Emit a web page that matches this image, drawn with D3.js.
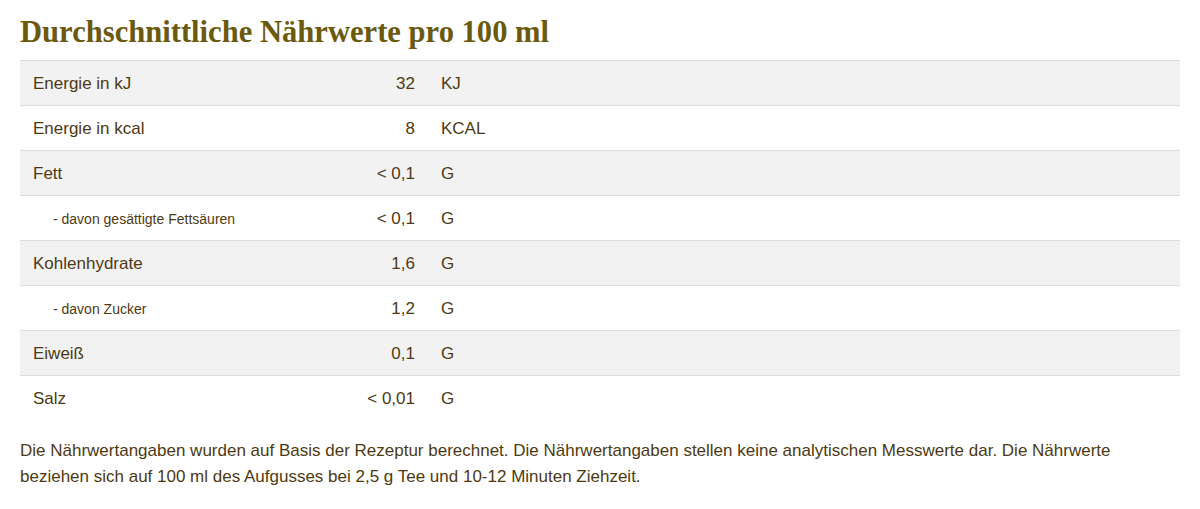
<!DOCTYPE html>
<html><head><meta charset="utf-8">
<script src="https://cdn.jsdelivr.net/npm/d3@7"></script>
<style>body{margin:0;background:#fff;}</style>
</head><body><div id="vis"></div>
<script>
const labels = ["Energie in kJ", "Energie in kcal", "Fett", "- davon gesättigte Fettsäuren", "Kohlenhydrate", "- davon Zucker", "Eiweiß", "Salz"];
const values = ["32", "8", "< 0,1", "< 0,1", "1,6", "1,2", "0,1", "< 0,01"];
const units = ["KJ", "KCAL", "G", "G", "G", "G", "G", "G"];
const isSub = [false, false, false, true, false, true, false, false];

const WIDTH = 1200, HEIGHT = 509;
const svg = d3.select("#vis").append("svg").attr("width", WIDTH).attr("height", HEIGHT);
const txtColor = "#4d3a12";
const font = "'Liberation Sans', Arial, 'Noto Sans', sans-serif";

svg.append("text").attr("x", 20).attr("y", 42)
  .style("font-family", "'Liberation Serif', 'DejaVu Serif', serif")
  .style("font-weight", "bold").style("font-size", "30.6px").style("fill", "#6b5a0e")
  .text("Durchschnittliche Nährwerte pro 100 ml");

const y = d3.scaleBand().domain(d3.range(labels.length)).range([60, 420]);

const rows = svg.selectAll("g.row").data(labels).join("g").attr("class", "row")
  .attr("transform", (d, i) => `translate(0,${y(i)})`);

rows.append("rect").attr("x", 20).attr("width", 1160).attr("height", y.bandwidth())
  .attr("fill", (d, i) => i % 2 === 0 ? "#f2f2f2" : "#fff");
rows.append("line").attr("x1", 20).attr("x2", 1180).attr("y1", 0.5).attr("y2", 0.5)
  .attr("stroke", "#dcdcdc");

const mid = y.bandwidth() / 2 + 6;
rows.append("text").attr("x", (d, i) => isSub[i] ? 53 : 33).attr("y", mid)
  .style("font-family", font).style("font-size", (d, i) => isSub[i] ? "14px" : "17px")
  .style("fill", txtColor).text(d => d);
rows.append("text").attr("x", 415).attr("y", mid).attr("text-anchor", "end")
  .style("font-family", font).style("font-size", "17px").style("fill", txtColor)
  .text((d, i) => values[i]);
rows.append("text").attr("x", 441).attr("y", mid)
  .style("font-family", font).style("font-size", "17px").style("fill", txtColor)
  .text((d, i) => units[i]);

const foot = ["Die Nährwertangaben wurden auf Basis der Rezeptur berechnet. Die Nährwertangaben stellen keine analytischen Messwerte dar. Die Nährwerte",
  "beziehen sich auf 100 ml des Aufgusses bei 2,5 g Tee und 10-12 Minuten Ziehzeit."];
svg.selectAll("text.foot").data(foot).join("text").attr("class", "foot")
  .attr("x", 20).attr("y", (d, i) => 456 + i * 26)
  .style("font-family", font).style("font-size", "17px").style("fill", txtColor)
  .text(d => d);
</script></body></html>
